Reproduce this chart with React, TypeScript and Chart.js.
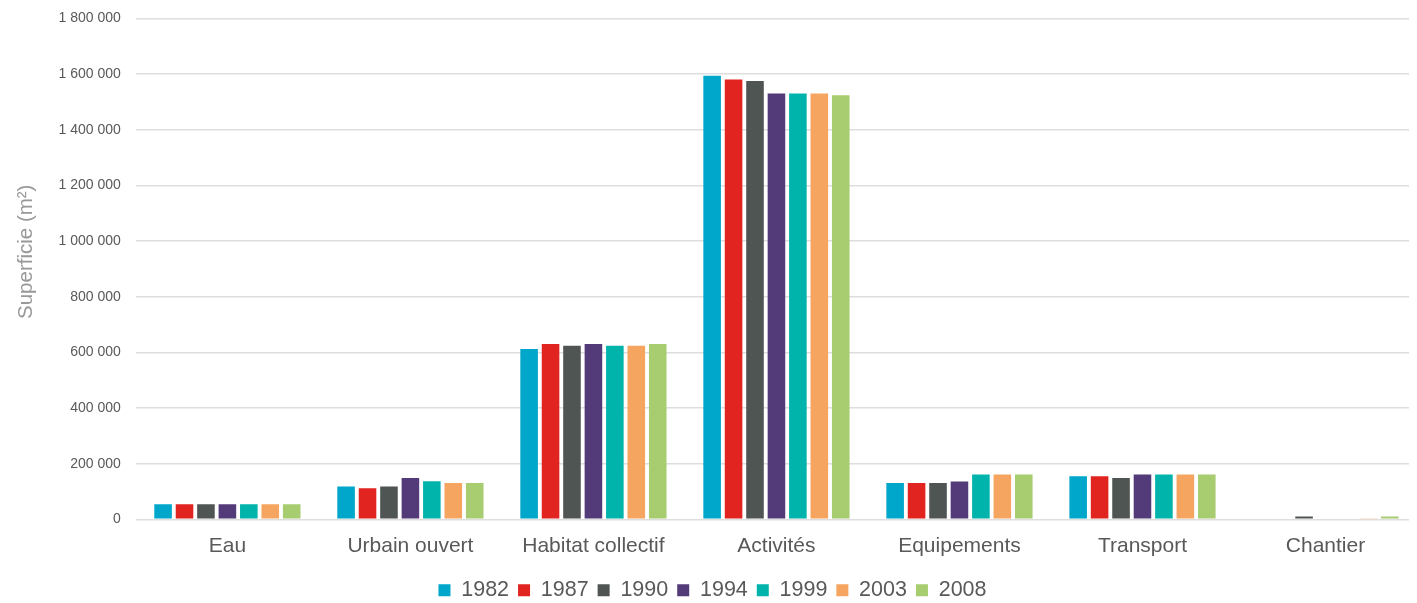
import React, { useEffect, useRef } from "react";
import { Chart, registerables } from "chart.js";

Chart.register(...registerables);

const categories = ["Eau", "Urbain ouvert", "Habitat collectif", "Activités", "Equipements", "Transport", "Chantier"];
const years = ["1982", "1987", "1990", "1994", "1999", "2003", "2008"];
const colors = ["#00a7ca", "#e12420", "#4f5553", "#533a79", "#00b4ac", "#f5a55f", "#a8cc70"];

const v1982 = [54000, 118000, 612000, 1594000, 130000, 155000, 3000];
const v1987 = [54000, 112000, 630000, 1580000, 130000, 155000, 3000];
const v1990 = [54000, 118000, 624000, 1575000, 130000, 148000, 10000];
const v1994 = [54000, 148000, 630000, 1530000, 136000, 161000, 3000];
const v1999 = [54000, 137000, 624000, 1530000, 161000, 161000, 0];
const v2003 = [54000, 130000, 624000, 1530000, 161000, 161000, 2000];
const v2008 = [54000, 130000, 630000, 1524000, 161000, 161000, 10000];
const seriesValues = [v1982, v1987, v1990, v1994, v1999, v2003, v2008];

const yMax = 1800000;
const yStep = 200000;
const yTitle = "      Superficie (m²)";

const formatTick = (v: number) => String(v).replace(/\B(?=(\d{3})+(?!\d))/g, " ");

const FONT = "'Liberation Sans', Arial, sans-serif";

export default function App() {
  const ref = useRef<HTMLCanvasElement | null>(null);
  useEffect(() => {
    if (!ref.current) return;
    const chart = new Chart(ref.current, {
      type: "bar",
      data: {
        labels: categories,
        datasets: years.map((y, i) => ({
          label: y,
          data: seriesValues[i],
          backgroundColor: colors[i],
          borderWidth: 0,
          categoryPercentage: 0.82,
          barPercentage: 0.82,
        })),
      },
      options: {
        responsive: false,
        animation: false,
        maintainAspectRatio: false,
        layout: { padding: { top: 0, right: 0, left: 0, bottom: -8 } },
        plugins: {
          tooltip: { enabled: false },
          legend: {
            position: "bottom",
            labels: {
              boxWidth: 12,
              boxHeight: 12,
              padding: 9,
              color: "#595959",
              font: { family: FONT, size: 21.5 },
            },
          },
        },
        scales: {
          x: {
            grid: { display: false, drawTicks: true, tickLength: 2 },
            border: { display: false },
            ticks: {
              color: "#595959",
              padding: 12,
              font: { family: FONT, size: 21 },
              maxRotation: 0,
            },
          },
          y: {
            min: 0,
            max: yMax,
            border: { display: false },
            grid: { color: "#dedede", lineWidth: 1.5, drawTicks: true, tickLength: 13, tickColor: "rgba(0,0,0,0)" },
            ticks: {
              stepSize: yStep,
              color: "#595959",
              padding: 2,
              font: { family: FONT, size: 14 },
              callback: (v: any) => formatTick(Number(v)),
            },
            title: {
              display: true,
              text: yTitle,
              color: "#999999",
              font: { family: FONT, size: 20.5 },
              padding: { top: 6, bottom: 18 },
            },
          },
        },
      },
    });
    return () => chart.destroy();
  }, []);
  return (
    <div style={{ width: 1409, height: 595 }}>
      <canvas ref={ref} width={1409} height={595} style={{ display: "block" }} />
    </div>
  );
}
